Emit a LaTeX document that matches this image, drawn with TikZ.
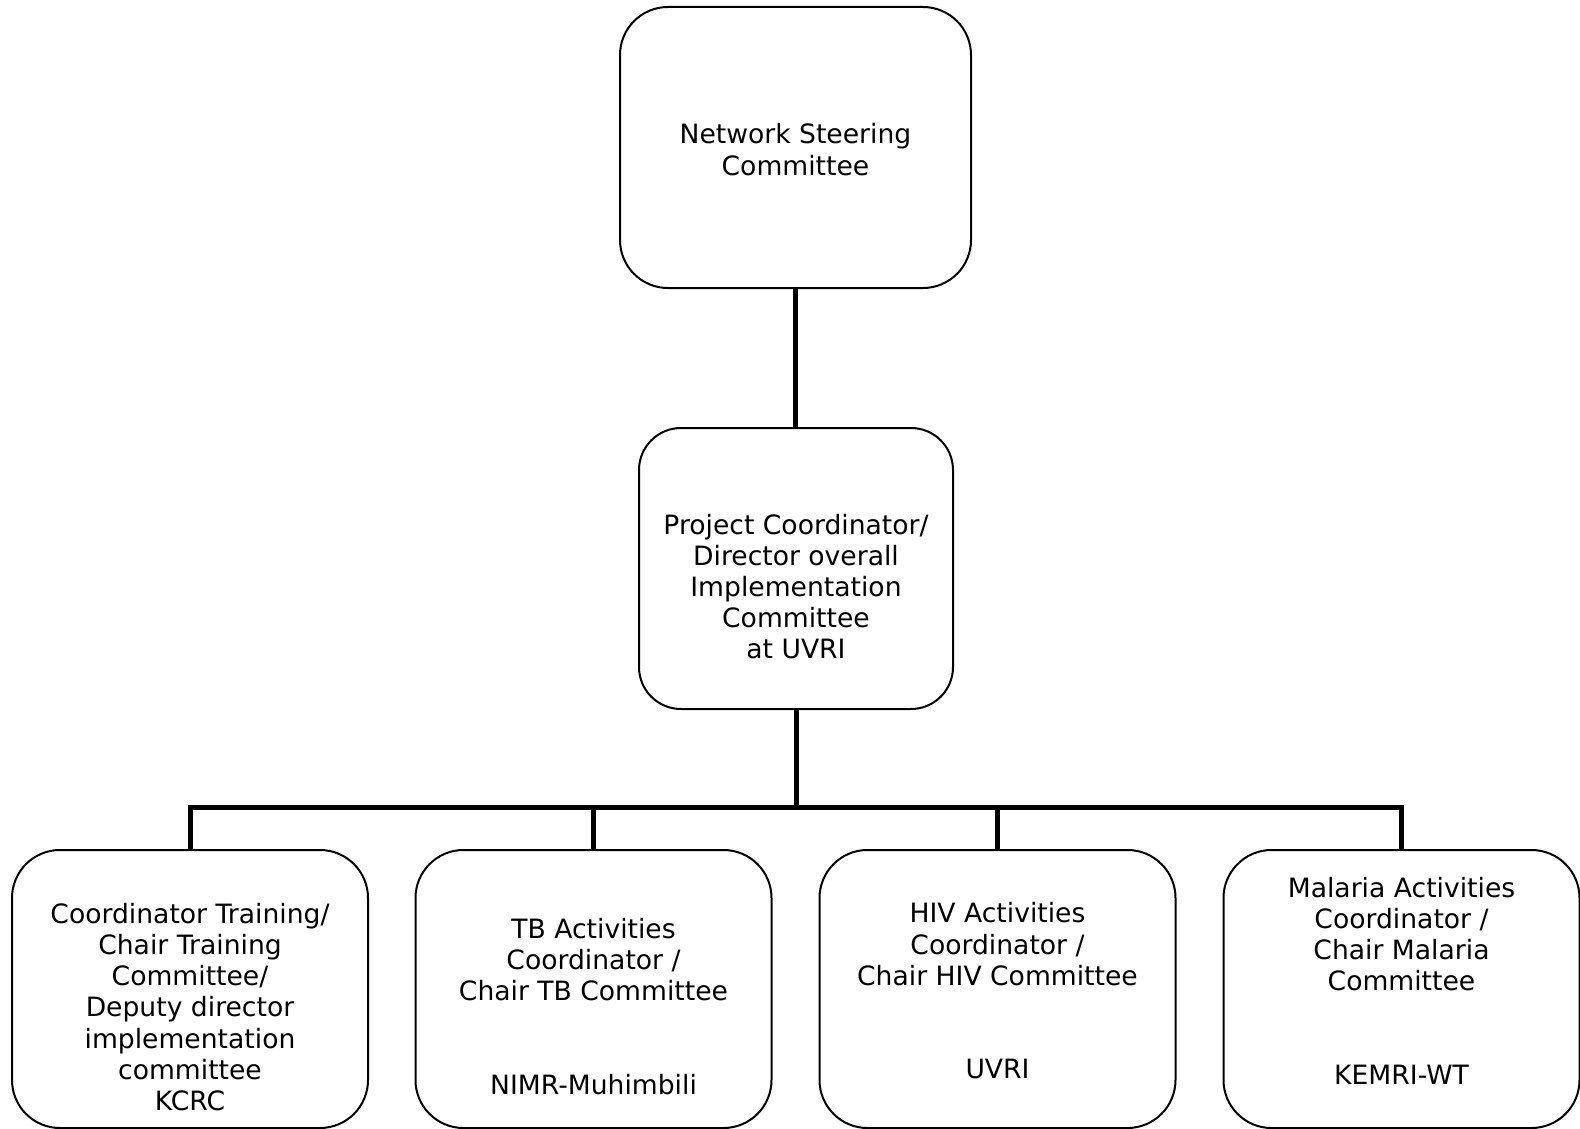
\documentclass[tikz,border=0pt]{standalone}
\usepackage{fontspec}
\setmainfont{DejaVu Sans}
\usepackage{tikz}
\usetikzlibrary{positioning}

\begin{document}
\begin{tikzpicture}[x=0.5pt,y=-0.5pt,
  box/.style={draw,line width=1pt,rounded corners=24pt,minimum width=#1},
  box/.default=178pt,
  txt/.style={align=center,font=\fontsize{13.3}{15.6}\selectfont},
  link/.style={line width=2.5pt}]
 \useasboundingbox (0,0) rectangle (1580,1129);
 \pgfmathsetmacro{\busy}{807}
  % top levels
  \node[box=175.5pt,minimum height=140.5pt] (nsc) at (795.5,147.5) {};
  \node[txt] (nsc-t) at (795.5,149.5) {Network Steering\\Committee};
  \node[box=157pt,minimum height=140.5pt,rounded corners=21pt] (pc) at (796,568.5) {};
  \node[txt] (pc-t) at (796,586.5) {Project Coordinator/\\Director overall\\Implementation\\Committee\\ at UVRI};
  % activity boxes
  \node[box,minimum height=139pt] (tr) at (190,989) {};
  \node[box,minimum height=139pt] (tb) at (593.5,989) {};
  \node[box,minimum height=139pt] (hiv) at (997.5,989) {};
  \node[box,minimum height=139pt] (mal) at (1401.5,989) {};
  \node[txt] (tr-t) at (190,1007) {Coordinator Training/\\Chair Training\\Committee/\\Deputy director\\implementation\\committee\\KCRC};
  \node[txt] (tb-t) at (593.5,1006.5) {TB Activities\\Coordinator /\\Chair TB Committee\\[31.2pt]NIMR-Muhimbili};
  \node[txt] (hiv-t) at (997.5,991) {HIV Activities\\Coordinator /\\Chair HIV Committee\\[31.2pt]UVRI};
  \node[txt] (mal-t) at (1401.5,980.5) {Malaria Activities\\Coordinator /\\ Chair Malaria\\Committee\\[31.2pt]KEMRI-WT};

  \coordinate (bus) at (pc.south |- 0,\busy);
  \draw[link] (nsc.south) -- (nsc.south |- pc.north);
  \draw[link] (pc.south) -- (bus);
  \draw[link,line cap=rect] (tr.north |- bus) -- (mal.north |- bus);
  \foreach \b in {tr,tb,hiv,mal}{
   \draw[link] (\b.north |- bus) -- (\b.north);
  }
\end{tikzpicture}
\end{document}
